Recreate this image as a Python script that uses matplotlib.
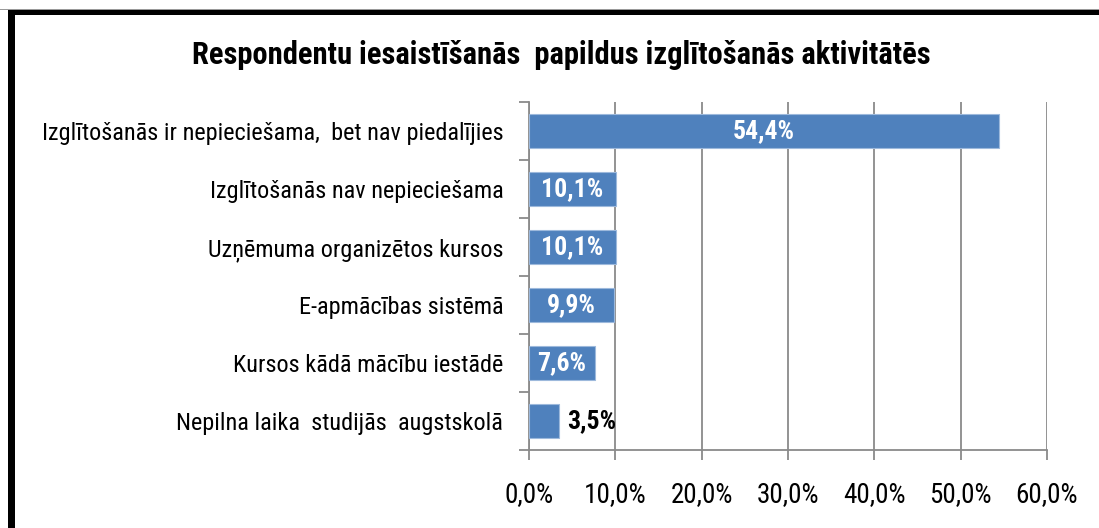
import matplotlib
matplotlib.use("Agg")
import matplotlib.pyplot as plt
from matplotlib import font_manager as fm
from matplotlib.ticker import MultipleLocator, FuncFormatter
from matplotlib.patches import Rectangle

categories = [
    "Izglītošanās ir nepieciešama,  bet nav piedalījies",
    "Izglītošanās nav nepieciešama",
    "Uzņēmuma organizētos kursos",
    "E-apmācības sistēmā",
    "Kursos kādā mācību iestādē",
    "Nepilna laika  studijās  augstskolā",
]
values = [54.4, 10.1, 10.1, 9.9, 7.6, 3.5]
title = "Respondentu iesaistīšanās  papildus izglītošanās aktivitātēs"

names = {f.name for f in fm.fontManager.ttflist}
fam = None
for cand in ["Liberation Sans Narrow", "Arial Narrow", "Roboto Condensed", "Liberation Sans"]:
    if cand in names:
        fam = cand
        break
plt.rcParams['font.family'] = [fam, 'DejaVu Sans']

fig = plt.figure(figsize=(10.99, 5.28), dpi=100)
ax = fig.add_axes([529/1099, 1-450/528, (1047-529)/1099, (450-102)/528])

n = len(categories)
ypos = list(range(n))
color = "#4F81BD"
ax.barh(ypos, values, height=0.59, color=color, edgecolor="#9DB9DC", linewidth=0.8, zorder=3)
ax.set_ylim(n - 0.5, -0.5)
ax.set_xlim(0, 60)
ax.xaxis.set_major_locator(MultipleLocator(10))
ax.xaxis.set_major_formatter(FuncFormatter(lambda v, p: f"{v:.1f}%".replace(".", ",")))
ax.grid(axis="x", color="#8A8A8A", linewidth=1.3, zorder=0)
ax.set_yticks(ypos)
ax.set_yticklabels(categories, fontsize=17.5)
ax.set_yticks([i - 0.5 for i in range(n + 1)], minor=True)
ax.tick_params(axis="y", which="major", length=0, pad=18.5)
ax.tick_params(axis="y", which="minor", length=7, width=1.3, color="#8A8A8A")
ax.tick_params(axis="x", length=7, width=1.3, color="#8A8A8A", labelsize=19.5, pad=15)
for s in ["top", "right"]:
    ax.spines[s].set_visible(False)
for s in ["left", "bottom"]:
    ax.spines[s].set_color("#8A8A8A")
    ax.spines[s].set_linewidth(1.3)

for i, v in enumerate(values):
    lab = f"{v:.1f}%".replace(".", ",")
    if v > 5:
        ax.text(v / 2, i, lab, ha="center", va="center", color="white",
                fontsize=18.5, fontweight="bold", zorder=4)
    else:
        ax.text(v + 0.9, i, lab, ha="left", va="center", color="black",
                fontsize=18.5, fontweight="bold", zorder=4)

fig.text(561/1099, 1-55/528, title, ha="center", va="center", fontsize=22, fontweight="bold")

# figure border (top and left)
fig.add_artist(Rectangle((8/1099, -0.1), 7/1099, 1 - 15/528 + 0.1, transform=fig.transFigure,
                         color="black", linewidth=0))
fig.add_artist(Rectangle((8/1099, 1 - 15/528), 1.2, 6/528, transform=fig.transFigure,
                         color="black", linewidth=0))
fig.add_artist(Rectangle((0, 1 - 10/528), 1.2, 1.5/528, transform=fig.transFigure,
                         color="#999999", linewidth=0))

fig.savefig("out.png", dpi=100)
